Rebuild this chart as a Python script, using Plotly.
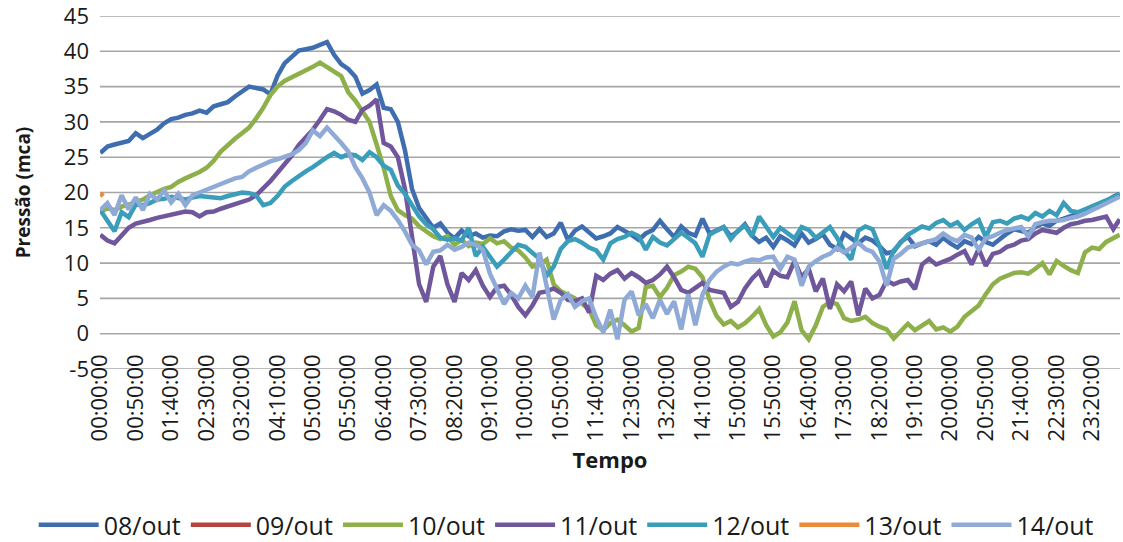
import plotly.graph_objects as go

# Sample times (minutes after midnight), one reading every 10 minutes
minutes = list(range(0, 1440, 10)) + [1439]

# Axis tick labels, every 50 minutes
tick_minutes = list(range(0, 1440, 50))
tick_labels = ["%02d:%02d:00" % (m // 60, m % 60) for m in tick_minutes]
y_ticks = [-5, 0, 5, 10, 15, 20, 25, 30, 35, 40, 45]
y_tick_labels = ["-5", "0", "5", "10", "15", "20", "25", "30", "35", "40", "45"]

# Pressure readings (mca) per day
p_08 = [25.6, 26.5, 26.8, 27.0, 27.3, 28.4, 27.7, 28.3, 28.9, 29.8,
        30.4, 30.6, 31.0, 31.2, 31.6, 31.3, 32.2, 32.5, 32.8, 33.6,
        34.4, 35.0, 34.8, 34.6, 33.9, 36.5, 38.3, 39.3, 40.1, 40.3,
        40.5, 40.9, 41.3, 39.5, 38.2, 37.5, 36.4, 34.0, 34.5, 35.3,
        32.0, 31.8, 30.0, 26.0, 20.5, 17.8, 16.5, 15.0, 15.6, 14.3,
        13.5, 14.6, 13.8, 14.2, 13.6, 13.9, 13.8, 14.5, 14.8, 14.6,
        14.7, 13.7, 14.8, 13.7, 14.2, 15.7, 13.3, 14.6, 15.2, 14.3,
        13.5, 13.8, 14.2, 15.1, 14.6, 14.0, 13.3, 14.2, 14.7, 16.0,
        14.8, 13.7, 15.2, 14.3, 13.9, 16.3, 14.2, 14.6, 15.1, 13.8,
        14.5, 15.5, 13.9, 13.0, 13.6, 12.3, 13.8, 13.2, 12.5, 14.2,
        12.9, 13.4, 14.1, 12.6, 12.0, 14.2, 13.5, 12.8, 13.6, 13.2,
        12.4, 11.4, 11.6, 13.0, 13.7, 12.4, 12.8, 13.1, 12.6, 13.6,
        12.8, 12.2, 13.1, 12.7, 13.7, 13.0, 12.6, 13.5, 14.2, 14.8,
        14.5, 14.3, 15.1, 15.6, 15.3, 16.0, 16.3, 16.6, 17.0, 17.4,
        17.9, 18.1, 18.8, 19.4, 19.8]

p_09 = [None]

p_10 = [17.2, 17.8, 17.5, 18.0, 18.3, 18.6, 19.0, 19.6, 20.1, 20.5,
        20.8, 21.5, 22.0, 22.4, 22.9, 23.5, 24.5, 25.8, 26.8, 27.6,
        28.4, 29.2, 30.5, 32.0, 33.8, 35.0, 35.8, 36.3, 36.8, 37.2,
        37.8, 38.4, 37.8, 37.2, 36.5, 34.2, 33.0, 31.5, 30.0, 26.8,
        23.5, 19.5, 17.5, 16.8, 16.3, 15.2, 14.5, 13.8, 13.4, 13.8,
        12.6, 13.3, 12.4, 12.9, 12.7, 13.5, 12.8, 13.1, 12.2, 11.8,
        10.8, 9.5, 9.8, 10.5, 7.0, 6.0, 5.5, 5.0, 4.2, 3.5,
        1.2, 0.5, 1.5, 2.0, 1.2, 0.3, 0.8, 6.6, 6.8, 5.2,
        6.5, 8.3, 8.8, 9.5, 9.2, 8.0, 4.8, 2.5, 1.3, 1.8,
        0.9, 1.5, 2.4, 3.5, 1.2, -0.4, 0.2, 1.6, 4.6, 0.5,
        -0.8, 1.2, 3.8, 4.5, 4.2, 2.2, 1.8, 2.0, 2.4, 1.5,
        1.0, 0.6, -0.7, 0.4, 1.4, 0.5, 1.2, 1.8, 0.6, 0.9,
        0.3, 1.0, 2.4, 3.2, 4.0, 5.6, 7.0, 7.8, 8.2, 8.6,
        8.7, 8.5, 9.2, 10.0, 8.4, 10.3, 9.6, 9.0, 8.6, 11.5,
        12.2, 12.0, 13.0, 13.5, 14.0]

p_11 = [14.0, 13.2, 12.8, 13.8, 15.0, 15.6, 15.8, 16.1, 16.4, 16.6,
        16.8, 17.0, 17.3, 17.2, 16.6, 17.2, 17.3, 17.7, 18.0, 18.4,
        18.7, 19.0, 19.6, 20.5, 21.6, 22.8, 24.0, 25.2, 26.7, 27.8,
        28.9, 30.3, 31.8, 31.5, 31.0, 30.3, 30.0, 31.7, 32.3, 33.2,
        27.0, 26.5, 25.0, 20.5, 14.0, 7.0, 4.5, 9.5, 11.0, 7.0,
        4.5, 8.6, 7.6, 9.0, 6.8, 5.2, 6.6, 6.8, 5.5, 3.8,
        2.6, 4.0, 5.8, 6.0, 6.4, 5.8, 4.8, 4.6, 5.0, 3.0,
        8.2, 7.6, 8.5, 9.0, 7.8, 8.6, 8.0, 7.2, 7.6, 8.4,
        9.5, 8.0, 6.2, 5.8, 6.5, 7.2, 6.2, 6.0, 5.8, 3.8,
        4.5, 6.4, 7.8, 8.8, 6.6, 8.9, 8.2, 8.0, 10.3, 8.0,
        9.2, 6.0, 7.8, 3.5, 7.0, 6.0, 7.4, 2.6, 6.4, 5.0,
        5.5, 7.5, 7.0, 7.4, 7.6, 6.3, 9.8, 10.6, 9.8, 10.2,
        10.6, 11.2, 11.7, 9.8, 12.0, 9.6, 11.3, 11.6, 12.3, 12.6,
        13.2, 13.4, 14.2, 14.7, 14.5, 14.3, 15.0, 15.5, 15.7, 16.0,
        16.1, 16.4, 16.6, 14.8, 16.2]

p_12 = [17.5, 16.0, 14.5, 17.2, 16.5, 18.3, 18.2, 18.5, 19.0, 19.1,
        19.4, 19.2, 19.0, 19.3, 19.5, 19.4, 19.3, 19.2, 19.5, 19.7,
        20.0, 19.9, 19.6, 18.2, 18.5, 19.5, 20.8, 21.6, 22.4, 23.0,
        23.6, 24.4, 25.0, 25.6, 25.0, 25.4, 25.3, 24.6, 25.7, 25.0,
        23.8, 23.2, 21.0, 19.8, 18.2, 16.6, 15.5, 14.8, 13.6, 13.3,
        13.5, 13.2, 15.0, 11.0, 12.3, 10.8, 9.5, 10.5, 11.5, 12.6,
        12.3, 11.5, 10.6, 8.2, 9.5, 12.0, 13.1, 13.4, 12.9, 12.2,
        11.8, 10.5, 12.8, 13.4, 13.7, 14.3, 13.8, 11.9, 13.7, 12.9,
        12.5, 13.4, 14.3, 13.6, 12.8, 10.9, 14.0, 14.6, 15.1, 13.4,
        14.6, 15.3, 13.8, 16.6, 15.2, 13.7, 15.0, 14.2, 13.5, 15.1,
        14.7, 13.6, 14.3, 15.1, 13.6, 11.8, 10.5, 14.6, 15.2, 14.8,
        12.4, 9.2, 11.8, 12.8, 14.0, 14.6, 15.2, 14.9, 15.7, 16.1,
        15.3, 15.8, 14.7, 15.5, 16.1, 13.7, 15.8, 16.0, 15.6, 16.3,
        16.6, 16.2, 17.1, 16.6, 17.4, 16.8, 18.5, 17.4, 17.2, 17.6,
        18.0, 18.4, 18.8, 19.3, 19.8]

p_13 = [19.9, 19.6, 19.5]
minutes_13 = [0, 2, 4]

p_14 = [17.5, 18.5, 16.8, 19.6, 17.6, 19.3, 17.5, 19.8, 19.0, 20.3,
        18.6, 19.8, 18.2, 19.6, 20.0, 20.4, 20.8, 21.2, 21.6, 22.0,
        22.2, 23.0, 23.5, 24.0, 24.4, 24.7, 25.0, 25.4, 26.0, 27.0,
        28.8, 28.0, 29.2, 28.2, 27.0, 25.8, 23.6, 22.0, 20.0, 16.8,
        18.2, 17.4, 16.1, 14.5, 12.6, 11.8, 9.8, 11.6, 11.8, 12.6,
        11.9, 12.3, 12.9, 12.6, 11.9, 8.5, 6.5, 4.2, 5.8, 5.0,
        6.8, 5.2, 11.5, 6.5, 2.0, 4.8, 5.6, 3.8, 4.6, 5.0,
        2.3, 0.2, 3.4, -0.8, 4.8, 6.0, 2.6, 4.2, 2.2, 4.8,
        2.8, 4.6, 0.6, 5.6, 1.2, 5.5, 7.6, 8.8, 9.5, 10.0,
        9.8, 10.2, 10.5, 10.4, 10.8, 10.9, 9.2, 10.9, 10.5, 6.8,
        9.5, 10.3, 10.9, 11.3, 12.2, 11.5, 12.3, 12.9, 12.0, 11.6,
        10.2, 6.8, 10.6, 11.3, 12.2, 12.5, 12.9, 13.2, 13.4, 14.2,
        13.5, 13.1, 14.0, 13.6, 11.9, 13.5, 13.8, 14.3, 14.7, 14.9,
        15.1, 13.8, 15.5, 15.8, 16.0, 16.0, 16.1, 16.4, 16.6, 17.0,
        17.5, 18.0, 18.5, 19.0, 19.4]

series = [
    ("08/out", minutes, p_08, "#3F6EB0"),
    ("09/out", [0], p_09, "#B5433F"),
    ("10/out", minutes, p_10, "#8DB04A"),
    ("11/out", minutes, p_11, "#70579C"),
    ("12/out", minutes, p_12, "#3A9DBA"),
    ("13/out", minutes_13, p_13, "#EC8A3B"),
    ("14/out", minutes, p_14, "#8FAAD6"),
]

FONT = "Open Sans, Liberation Sans, sans-serif"
GRID = "#A6A6A6"
GRID_HALF = 0.11  # half thickness of a grid band, in mca

fig = go.Figure()

for name, xs, ys, color in series:
    fig.add_trace(go.Scatter(
        x=xs, y=ys, name=name, mode="lines",
        line=dict(color=color, width=4.5),
    ))

# Grid: a thin filled band at each value-axis tick, under the data
for v in y_ticks:
    fig.add_shape(
        type="rect", xref="x domain", x0=0, x1=1,
        yref="y", y0=v - GRID_HALF, y1=v + GRID_HALF,
        fillcolor=GRID, line=dict(width=0), layer="below",
    )

fig.update_layout(
    template="none",
    width=1123, height=542,
    margin=dict(l=100, r=3, t=16, b=173, pad=0, autoexpand=False),
    paper_bgcolor="white", plot_bgcolor="white",
    font=dict(family=FONT, size=22, color="#1a1a1a"),
    showlegend=True,
    legend=dict(
        orientation="h", x=-0.065, xanchor="left", y=-0.442, yanchor="middle",
        font=dict(size=25), itemwidth=60,
        bgcolor="rgba(0,0,0,0)", borderwidth=0,
    ),
)

fig.update_yaxes(
    range=[-5, 45], tickmode="array", tickvals=y_ticks, ticktext=y_tick_labels,
    showgrid=False, zeroline=False, showline=False, ticks="",
    tickfont=dict(size=22), ticklabelstandoff=10, ticklabeloverflow="allow",
    automargin=False,
    title=dict(text="<b>Pressão (mca)</b>", font=dict(size=19), standoff=28),
)

fig.update_xaxes(
    range=[-0.5, 1439.5],
    tickmode="array", tickvals=tick_minutes, ticktext=tick_labels,
    tickangle=-90, tickfont=dict(size=22), ticklabelstandoff=-20,
    ticklabeloverflow="allow",
    showgrid=False, zeroline=False, showline=False, ticks="",
    automargin=False,
    title=dict(text="<b>Tempo</b>", font=dict(size=22), standoff=12),
)

fig.write_html("out.html")
